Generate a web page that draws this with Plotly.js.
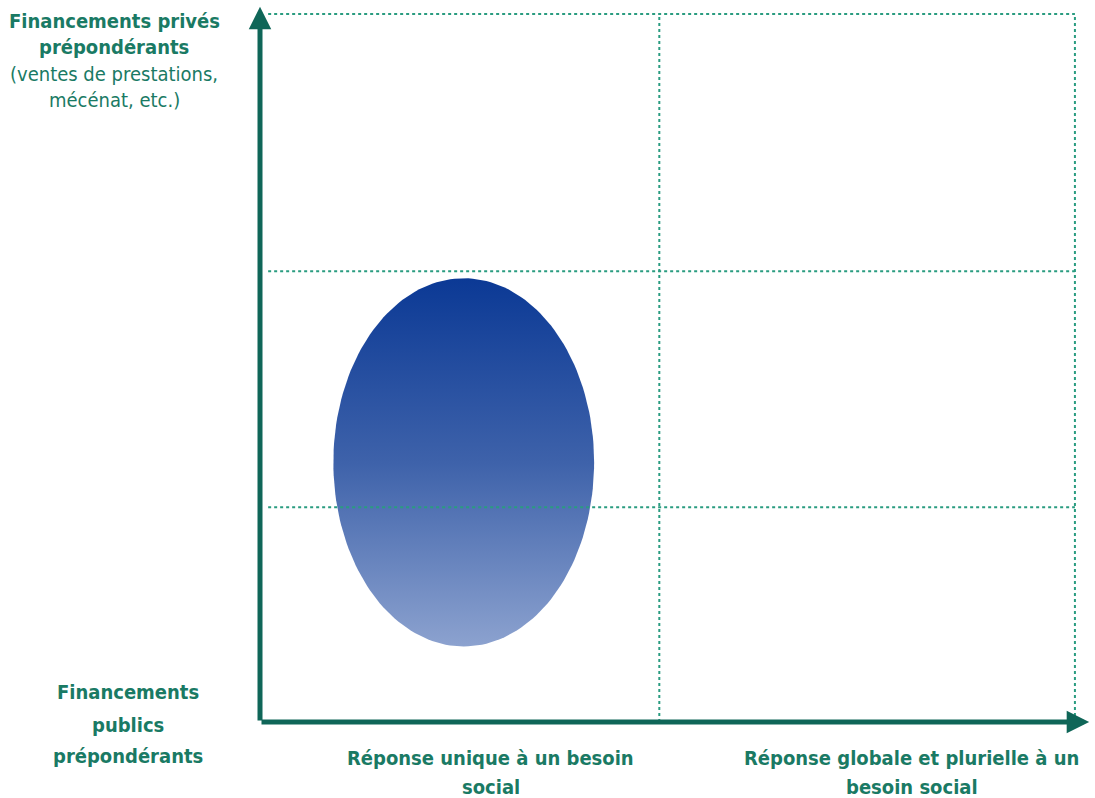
<!DOCTYPE html>
<html>
<head>
<meta charset="utf-8">
<script src="https://cdn.plot.ly/plotly-3.0.1.min.js"></script>
<style>html,body{margin:0;padding:0;background:#fff;}#chart{width:1095px;height:798px;}</style>
</head>
<body>
<div id="chart"></div>
<script>
// ---- data ----
const columnLabelLines = [["Réponse unique à un besoin", "social"], ["Réponse globale et plurielle à un", "besoin social"]];
const columnCenters = [0.566, 1.60];
const rowLowLines = ["Financements", "publics", "prépondérants"];
const rowHighLines = ["Financements privés", "prépondérants", "(ventes de prestations,", "mécénat, etc.)"];
const rowHighBold = [true, true, false, false];
const gridX = [0.98, 2];
const gridY = [0.91, 1.91, 3];
const ellipseCenter = [0.5, 1.1];
const ellipseRadius = [0.32, 0.78];

const AXIS = "#0f6658";
const TEXT = "#1a7a64";
const DOT = "#2a9c80";
const FONT = "'DejaVu Sans Condensed', 'Liberation Sans Narrow', sans-serif";

// ellipse outline (geometry from centre & radii)
const ex = [], ey = [];
for (let i = 0; i <= 180; i++) {
  const t = 2 * Math.PI * i / 180;
  ex.push(ellipseCenter[0] + ellipseRadius[0] * Math.cos(t));
  ey.push(ellipseCenter[1] + ellipseRadius[1] * Math.sin(t));
}

const traces = [{
  type: "scatter", mode: "lines", x: ex, y: ey, fill: "toself",
  line: {width: 0, color: "rgba(0,0,0,0)"},
  fillgradient: {type: "vertical", colorscale: [[0, "#8ca2cf"], [0.5, "#3e62aa"], [1, "#0b3995"]]},
  hoverinfo: "skip", showlegend: false
}];

const shapes = [];
const xMax = gridX[gridX.length - 1];
const yMax = gridY[gridY.length - 1];
gridY.forEach(v => shapes.push({type: "line", xref: "x", yref: "y", x0: 0.02, x1: xMax, y0: v, y1: v,
  line: {color: DOT, width: 2, dash: "dot"}, layer: "above"}));
gridX.forEach(v => shapes.push({type: "line", xref: "x", yref: "y", x0: v, x1: v, y0: 0, y1: yMax,
  line: {color: DOT, width: 2, dash: "dot"}, layer: "above"}));

const W = 1095, H = 798, L = 260, R = 5, T = 8, B = 76;
const px = v => (v - L) / (W - L - R);
const py = v => 1 - (v - T) / (H - T - B);

const annotations = [];
// axes arrows
annotations.push({x: 2.035, y: 0, ax: 0, ay: 0, xref: "x", yref: "y", axref: "x", ayref: "y",
  showarrow: true, arrowhead: 2, arrowsize: 0.9, arrowwidth: 5, arrowcolor: AXIS, text: "", standoff: 0});
annotations.push({x: 0, y: 3.03, ax: 0, ay: 0, xref: "x", yref: "y", axref: "x", ayref: "y",
  showarrow: true, arrowhead: 2, arrowsize: 0.9, arrowwidth: 5, arrowcolor: AXIS, text: "", standoff: 0});

function label(text, xPix, yPix, bold, xData) {
  annotations.push({
    x: xData !== undefined ? xData : px(xPix), xref: xData !== undefined ? "x" : "paper",
    y: py(yPix), yref: "paper", xanchor: "center", yanchor: "middle", showarrow: false,
    text: bold ? "<b>" + text + "</b>" : text,
    font: {family: FONT, size: 20, color: TEXT}
  });
}
// column labels
const colLineY = [758, 787];
columnLabelLines.forEach((lines, i) => lines.forEach((t, j) => label(t, 0, colLineY[j], true, columnCenters[i])));
// row labels
const lowY = [692, 725, 756];
rowLowLines.forEach((t, j) => label(t, 128, lowY[j], true));
const highY = [21, 47, 74, 100];
rowHighLines.forEach((t, j) => label(t, 114, highY[j], rowHighBold[j]));

const layout = {
  width: W, height: H,
  margin: {l: L, r: R, t: T, b: B},
  paper_bgcolor: "#fff", plot_bgcolor: "#fff",
  xaxis: {range: [0, 2.037], showgrid: false, zeroline: false, showticklabels: false, ticks: "", fixedrange: true},
  yaxis: {range: [0, 3.025], showgrid: false, zeroline: false, showticklabels: false, ticks: "", fixedrange: true},
  shapes: shapes, annotations: annotations, showlegend: false
};

Plotly.newPlot("chart", traces, layout, {displayModeBar: false, staticPlot: true});
</script>
</body>
</html>
